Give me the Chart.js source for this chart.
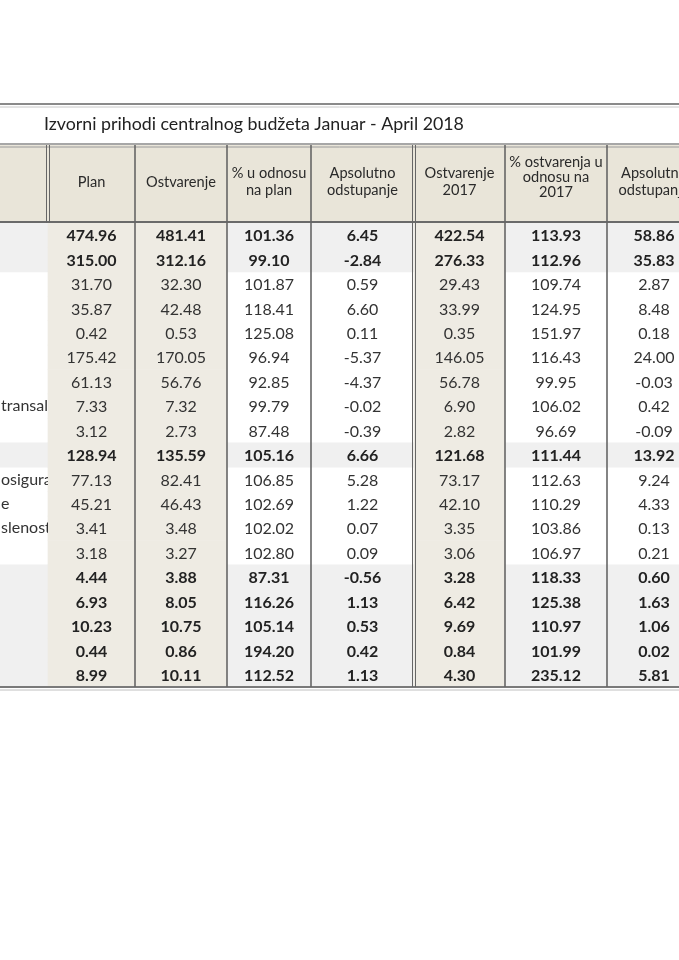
<!DOCTYPE html>
<html>
<head>
<meta charset="utf-8">
<script src="https://cdn.jsdelivr.net/npm/chart.js@4"></script>
<style>
  body { margin: 0; background: #fff; }
  #wrap { width: 679px; height: 960px; }
</style>
</head>
<body>
<div id="wrap"><canvas id="table" width="679" height="960"></canvas></div>
<script>
// table title and column headers
const title = "Izvorni prihodi centralnog budžeta Januar - April 2018";
const headers = [
  [],
  ["Plan"],
  ["Ostvarenje"],
  ["% u odnosu", "na plan"],
  ["Apsolutno", "odstupanje"],
  ["Ostvarenje", "2017"],
  ["% ostvarenja u", "odnosu na", "2017"],
  ["Apsolutno", "odstupanje"],
];

// row labels (only the right end of them is visible in the picture)
const rowLabels = ["", "", "", "", "", "", "", "transal", "", "", "osigura", "e", "slenost", "", "", "", "", "", ""];

// series values, one array per column
const plan = [474.96, 315.00, 31.70, 35.87, 0.42, 175.42, 61.13, 7.33, 3.12, 128.94, 77.13, 45.21, 3.41, 3.18, 4.44, 6.93, 10.23, 0.44, 8.99];
const ostvarenje = [481.41, 312.16, 32.30, 42.48, 0.53, 170.05, 56.76, 7.32, 2.73, 135.59, 82.41, 46.43, 3.48, 3.27, 3.88, 8.05, 10.75, 0.86, 10.11];
const pctPlan = [101.36, 99.10, 101.87, 118.41, 125.08, 96.94, 92.85, 99.79, 87.48, 105.16, 106.85, 102.69, 102.02, 102.80, 87.31, 116.26, 105.14, 194.20, 112.52];
const apsPlan = [6.45, -2.84, 0.59, 6.60, 0.11, -5.37, -4.37, -0.02, -0.39, 6.66, 5.28, 1.22, 0.07, 0.09, -0.56, 1.13, 0.53, 0.42, 1.13];
const ostv2017 = [422.54, 276.33, 29.43, 33.99, 0.35, 146.05, 56.78, 6.90, 2.82, 121.68, 73.17, 42.10, 3.35, 3.06, 3.28, 6.42, 9.69, 0.84, 4.30];
const pct2017 = [113.93, 112.96, 109.74, 124.95, 151.97, 116.43, 99.95, 106.02, 96.69, 111.44, 112.63, 110.29, 103.86, 106.97, 118.33, 125.38, 110.97, 101.99, 235.12];
const aps2017 = [58.86, 35.83, 2.87, 8.48, 0.18, 24.00, -0.03, 0.42, -0.09, 13.92, 9.24, 4.33, 0.13, 0.21, 0.60, 1.63, 1.06, 0.02, 5.81];

// rows that are totals (bold, grey band)
const totalRows = [0, 1, 9, 14, 15, 16, 17, 18];

// layout
const colEdges = [0, 48, 135, 227, 311, 414, 505, 607, 701];
const doubleEdges = [48, 414];
const titleTop = 104, headerTop = 145, bodyTop = 223, bodyBottom = 687;
const FONT = "Lato, 'Open Sans', sans-serif";

const columns = [plan, ostvarenje, pctPlan, apsPlan, ostv2017, pct2017, aps2017];
const rows = plan.map((_, i) => String(i + 1));
const fullRow = [colEdges[0], colEdges[colEdges.length - 1]];

const tablePlugin = {
  id: "tableDraw",
  beforeDatasetsDraw(chart) {
    const ctx = chart.ctx;
    const x = chart.scales.x;
    const left = x.getPixelForValue(colEdges[0]);
    const right = x.getPixelForValue(colEdges[colEdges.length - 1]);
    ctx.save();
    // header background
    ctx.fillStyle = "#e9e5d9";
    ctx.fillRect(left, headerTop, right - left, bodyTop - headerTop);
    ctx.restore();
  },
  afterDatasetsDraw(chart) {
    const ctx = chart.ctx;
    const x = chart.scales.x;
    const y = chart.scales.y;
    const W = chart.width;
    ctx.save();

    // title
    ctx.fillStyle = "#222";
    ctx.font = "17.8px " + FONT;
    ctx.textBaseline = "middle";
    ctx.textAlign = "left";
    ctx.fillText(title, 44, 124);

    // header text
    ctx.font = "14.6px " + FONT;
    ctx.fillStyle = "#2a2a2a";
    ctx.textAlign = "center";
    for (let c = 1; c < headers.length; c++) {
      const cx = x.getPixelForValue((colEdges[c] + colEdges[c + 1]) / 2);
      const lines = headers[c];
      const lh = lines.length > 2 ? 15 : 17;
      const midY = lines.length > 2 ? 177 : 182;
      lines.forEach((t, k) => {
        ctx.fillText(t, cx, midY + (k - (lines.length - 1) / 2) * lh);
      });
    }

    // row labels, clipped to the first column
    ctx.save();
    ctx.beginPath();
    ctx.rect(0, bodyTop, x.getPixelForValue(colEdges[1]), bodyBottom - bodyTop);
    ctx.clip();
    ctx.textAlign = "left";
    ctx.font = "16px " + FONT;
    ctx.fillStyle = "#333";
    rowLabels.forEach((t, i) => {
      if (t) ctx.fillText(t, 1, y.getPixelForValue(i));
    });
    ctx.restore();

    // cell values
    ctx.textAlign = "center";
    columns.forEach((col, c) => {
      const cx = x.getPixelForValue((colEdges[c + 1] + colEdges[c + 2]) / 2);
      col.forEach((v, i) => {
        const bold = totalRows.includes(i);
        ctx.font = (bold ? "bold " : "") + "16px " + FONT;
        ctx.fillStyle = bold ? "#222" : "#333";
        ctx.fillText(v.toFixed(2), cx, y.getPixelForValue(i) + 1);
      });
    });

    // horizontal borders
    const hline = (yy, color, w) => {
      ctx.strokeStyle = color;
      ctx.lineWidth = w;
      ctx.beginPath();
      ctx.moveTo(0, yy);
      ctx.lineTo(W, yy);
      ctx.stroke();
    };
    hline(titleTop, "#8a8a8a", 2);
    hline(titleTop + 3, "#c8c8c8", 1);
    hline(headerTop - 1, "#8a8a8a", 1.5);
    hline(headerTop + 2, "#9a9a9a", 1);
    hline(bodyTop - 1, "#6a6a6a", 2);
    hline(bodyBottom, "#7a7a7a", 2);
    hline(bodyBottom + 3, "#c0c0c0", 1);

    // vertical borders
    for (let c = 1; c < colEdges.length - 1; c++) {
      const ex = x.getPixelForValue(colEdges[c]);
      const top = headerTop;
      const bottom = colEdges[c] === colEdges[1] ? bodyTop : bodyBottom;
      ctx.strokeStyle = "#666";
      if (doubleEdges.includes(colEdges[c])) {
        ctx.lineWidth = 1;
        [ex - 1.5, ex + 1.5].forEach((px) => {
          ctx.beginPath();
          ctx.moveTo(px, top);
          ctx.lineTo(px, bottom);
          ctx.stroke();
        });
      } else {
        ctx.lineWidth = 1.6;
        ctx.beginPath();
        ctx.moveTo(ex, top);
        ctx.lineTo(ex, bottom);
        ctx.stroke();
      }
    }
    ctx.restore();
  },
};

new Chart(document.getElementById("table"), {
  type: "bar",
  data: {
    labels: rows,
    datasets: [
      {
        // beige Plan / Ostvarenje columns
        data: rows.map(() => [colEdges[1], colEdges[3]]),
        backgroundColor: "#eeebe3",
      },
      {
        // beige Ostvarenje 2017 column
        data: rows.map(() => [colEdges[5], colEdges[6]]),
        backgroundColor: "#eeebe3",
      },
      {
        // grey band on total rows
        data: rows.map((_, i) => (totalRows.includes(i) ? fullRow : null)),
        backgroundColor: "#f0f0f0",
      },
    ],
  },
  options: {
    indexAxis: "y",
    responsive: false,
    animation: false,
    events: [],
    layout: { padding: { top: bodyTop, bottom: 960 - bodyBottom, left: 0, right: 0 } },
    datasets: {
      bar: { grouped: false, barPercentage: 1, categoryPercentage: 1, borderWidth: 0 },
    },
    plugins: { legend: { display: false }, tooltip: { enabled: false }, title: { display: false } },
    scales: {
      x: { type: "linear", min: 0, max: 679, display: false },
      y: { type: "category", display: false, offset: true },
    },
  },
  plugins: [tablePlugin],
});
</script>
</body>
</html>
